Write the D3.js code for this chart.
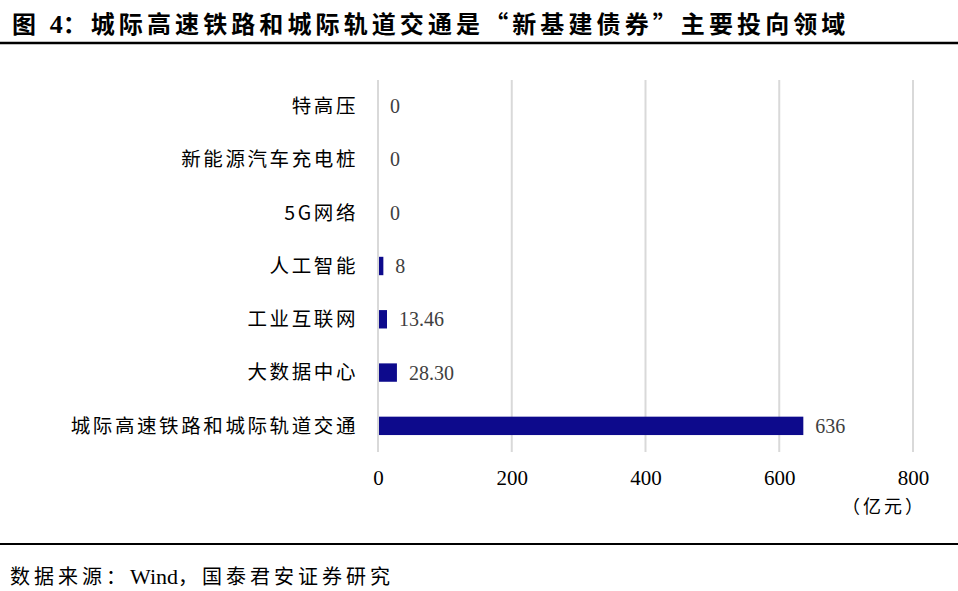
<!DOCTYPE html>
<html><head><meta charset="utf-8">
<script src="https://cdn.jsdelivr.net/npm/d3@7"></script>
<style>
body{margin:0;background:#fff;}
svg{display:block;}
</style></head>
<body>
<svg id="chart" width="958" height="591"></svg>
<script>
const categories = ["特高压","新能源汽车充电桩","5G网络","人工智能","工业互联网","大数据中心","城际高速铁路和城际轨道交通"];
const values = [0,0,0,8,13.46,28.30,636];
const valueLabels = ["0","0","0","8","13.46","28.30","636"];
const xTicks = [0,200,400,600,800];
const titleParts = ["图 ","4","：城际高速铁路和城际轨道交通是“新基建债券”主要投向领域"];
const unitText = "（亿元）";
const sourceParts = ["数据来源：","Wind","，国泰君安证券研究"];

const svg = d3.select("#chart");
const cjk = "'Noto Sans CJK SC', sans-serif";
const serif = "'Liberation Serif', 'Times New Roman', serif";

const x = d3.scaleLinear().domain([0,800]).range([378,913]);
const y = d3.scaleBand().domain(categories).range([79.5,452.5]).paddingInner(0.655).paddingOuter(0.3275);

// title
const t = svg.append("text").attr("x",12).attr("y",33)
  .attr("font-family",cjk).attr("font-weight","bold").attr("font-size",24)
  .attr("letter-spacing",4.1).attr("fill","#000");
t.append("tspan").text(titleParts[0]);
t.append("tspan").attr("font-family",serif).attr("font-size",26).attr("letter-spacing",0).text(titleParts[1]);
t.append("tspan").text(titleParts[2]);
svg.append("line").attr("x1",0).attr("x2",958).attr("y1",43).attr("y2",43)
  .attr("stroke","#000").attr("stroke-width",2.5);

// grid
svg.append("g").selectAll("line").data(xTicks).join("line")
  .attr("x1",d=>x(d)).attr("x2",d=>x(d)).attr("y1",80).attr("y2",452)
  .attr("stroke","#d9d9d9").attr("stroke-width",2);

// bars
svg.append("g").selectAll("rect").data(values).join("rect")
  .attr("x",x(0)+1).attr("y",(d,i)=>y(categories[i]))
  .attr("width",d=>Math.max(0,x(d)-x(0)-1)).attr("height",y.bandwidth())
  .attr("fill","#0d0a8c");

// value labels
svg.append("g").selectAll("text").data(values).join("text")
  .attr("x",d=>x(d)+12).attr("y",(d,i)=>y(categories[i])+y.bandwidth()/2)
  .attr("dy","0.35em").attr("font-family",serif).attr("font-size",20)
  .attr("fill","#404040").text((d,i)=>valueLabels[i]);

// category labels
svg.append("g").selectAll("text").data(categories).join("text")
  .attr("x",358).attr("y",d=>y(d)+y.bandwidth()/2)
  .attr("dy","0.35em").attr("text-anchor","end")
  .attr("font-family",cjk).attr("font-size",19.5).attr("letter-spacing",2.6)
  .attr("fill","#000").text(d=>d);

// x axis
const xAxis = d3.axisBottom(x).tickValues(xTicks).tickSize(0).tickPadding(0).tickFormat(d3.format("d"));
const gx = svg.append("g").attr("transform","translate(0,470)").call(xAxis);
gx.select(".domain").remove();
gx.selectAll("text").attr("font-family",serif).attr("font-size",21).attr("fill","#000");

svg.append("text").attr("x",884).attr("y",513).attr("text-anchor","middle")
  .attr("font-family",cjk).attr("font-size",18).attr("letter-spacing",3).attr("fill","#000").text(unitText);

// footer
svg.append("line").attr("x1",0).attr("x2",958).attr("y1",544).attr("y2",544)
  .attr("stroke","#000").attr("stroke-width",2);
const s = svg.append("text").attr("x",10).attr("y",584)
  .attr("font-family",cjk).attr("font-size",20).attr("letter-spacing",4).attr("fill","#000");
s.append("tspan").text(sourceParts[0]);
s.append("tspan").attr("font-family",serif).attr("font-size",22).attr("letter-spacing",0).text(sourceParts[1]);
s.append("tspan").text(sourceParts[2]);
</script>
</body></html>
